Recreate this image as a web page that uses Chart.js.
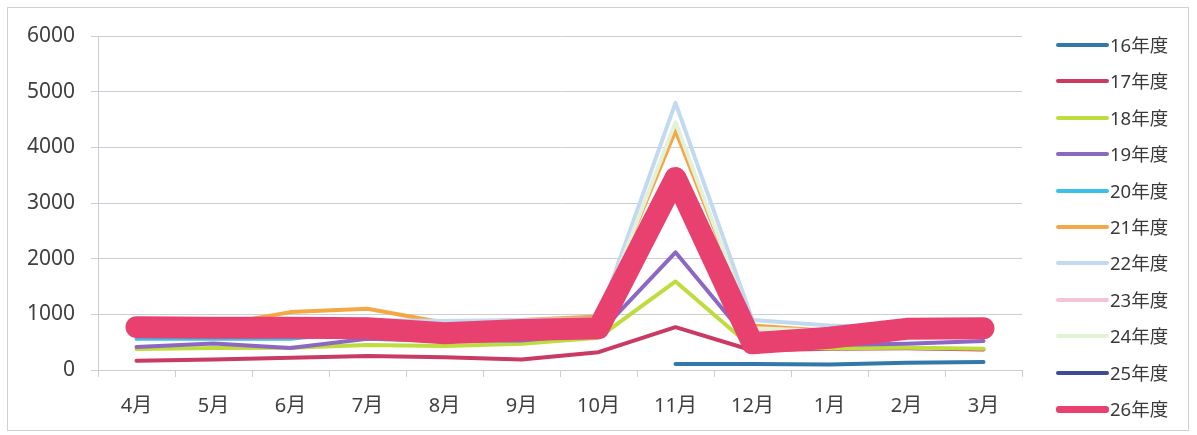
<!DOCTYPE html>
<html>
<head>
<meta charset="utf-8">
<script src="https://cdn.jsdelivr.net/npm/chart.js@4/dist/chart.umd.min.js"></script>
<style>
  html, body { margin: 0; padding: 0; background: #fff; }
  #wrap { position: relative; width: 1197px; height: 435px; }
  #frame { position: absolute; left: 7px; top: 7px; width: 1182px; height: 424px; border: 1px solid #cfcfd6; box-sizing: border-box; }
  #legend { position: absolute; left: 1056px; top: 0; }
  .item { position: absolute; left: 0; height: 20px; width: 140px; }
  .item .swatch { position: absolute; left: 0; width: 53px; border-radius: 3px; }
  .item .label { position: absolute; left: 54px; top: 0; line-height: 20px; font-size: 18.5px; color: #3a3a3a;
    font-family: 'Noto Sans', 'Noto Sans CJK JP', sans-serif; white-space: nowrap; }
</style>
</head>
<body>
<div id="wrap">
  <canvas id="chart" width="1197" height="435"></canvas>
  <div id="frame"></div>
  <div id="legend"></div>
</div>
<script>
const months = ["4月", "5月", "6月", "7月", "8月", "9月", "10月", "11月", "12月", "1月", "2月", "3月"];
const yTicks = [0, 1000, 2000, 3000, 4000, 5000, 6000];

const seriesNames = ["16年度", "17年度", "18年度", "19年度", "20年度", "21年度", "22年度", "23年度", "24年度", "25年度", "26年度"];
const fy16 = [null, null, null, null, null, null, null, 110, 110, 100, 130, 145];
const fy17 = [165, 190, 220, 250, 230, 190, 320, 770, 350, 380, 390, 370];
const fy18 = [375, 395, 400, 450, 430, 470, 580, 1590, 400, 390, 400, 380];
const fy19 = [415, 475, 395, 560, 520, 530, 650, 2115, 450, 450, 470, 520];
const fy20 = [560, 560, 560, 700, 650, 700, 750, 3100, 500, 600, 700, 700];
const fy21 = [750, 800, 1040, 1100, 850, 900, 960, 4300, 800, 700, 780, 780];
const fy22 = [820, 820, 880, 900, 880, 900, 920, 4800, 900, 800, 760, 760];
const fy23 = [780, 780, 800, 820, 780, 820, 850, 3350, 700, 650, 740, 750];
const fy24 = [800, 790, 820, 850, 800, 850, 880, 4450, 750, 700, 750, 760];
const fy25 = [760, 750, 760, 760, 680, 720, 740, 3300, 500, 600, 740, 750];
const fy26 = [770, 760, 760, 750, 660, 720, 750, 3450, 480, 580, 740, 750];

const seriesValues = [fy16, fy17, fy18, fy19, fy20, fy21, fy22, fy23, fy24, fy25, fy26];
const seriesColors = ["#3279aa", "#c93b63", "#bedc3c", "#8c68c2", "#3cbfe8", "#f4a845", "#c2d9f2", "#f3c3d7", "#e3f1d6", "#3a4c94", "#e8416f"];
const seriesWidths = [4, 4, 4, 4, 4, 4, 4, 4, 4, 4, 22];

const FONT = "'Noto Sans', 'Noto Sans CJK JP', sans-serif";
const GRID = "#cdcdd6";

const datasets = seriesNames.map((name, i) => ({
    label: name,
    data: seriesValues[i],
    borderColor: seriesColors[i],
    backgroundColor: seriesColors[i],
    borderWidth: seriesWidths[i],
    borderCapStyle: "round",
    borderJoinStyle: "round",
    pointRadius: 0,
    pointHoverRadius: 0,
    tension: 0,
    fill: false,
    spanGaps: false,
    order: seriesNames.length - 1 - i,
}));

new Chart(document.getElementById("chart"), {
    type: "line",
    data: { labels: months, datasets: datasets },
    options: {
        responsive: false,
        animation: false,
        layout: { padding: { top: 36, right: 175, bottom: 0, left: 0 } },
        plugins: {
            legend: { display: false },
            tooltip: { enabled: false },
        },
        scales: {
            x: {
                offset: true,
                grid: { drawOnChartArea: false, drawTicks: true, tickLength: 7, color: GRID, offset: true },
                border: { display: true, color: GRID },
                ticks: { color: "#404040", font: { family: FONT, size: 20 }, padding: 17, maxRotation: 0 },
            },
            y: {
                min: 0,
                max: 6000,
                afterFit: (scale) => { scale.width = 98; },
                afterBuildTicks: (scale) => { scale.ticks = yTicks.map(v => ({ value: v })); },
                grid: { color: GRID, tickLength: 7 },
                border: { display: true, color: GRID },
                ticks: {
                    color: "#404040",
                    font: { family: FONT, size: 21 },
                    padding: 16,
                    callback: (v) => String(v),
                },
            },
        },
    },
});

const legend = document.getElementById("legend");
seriesNames.forEach((name, i) => {
    const row = document.createElement("div");
    row.className = "item";
    row.style.top = (35 + i * 36.4) + "px";
    const sw = document.createElement("div");
    sw.className = "swatch";
    const h = i === seriesNames.length - 1 ? 7 : 4;
    sw.style.height = h + "px";
    sw.style.top = (10 - h / 2) + "px";
    sw.style.background = seriesColors[i];
    const lb = document.createElement("div");
    lb.className = "label";
    lb.textContent = name;
    row.appendChild(sw);
    row.appendChild(lb);
    legend.appendChild(row);
});
</script>
</body>
</html>
